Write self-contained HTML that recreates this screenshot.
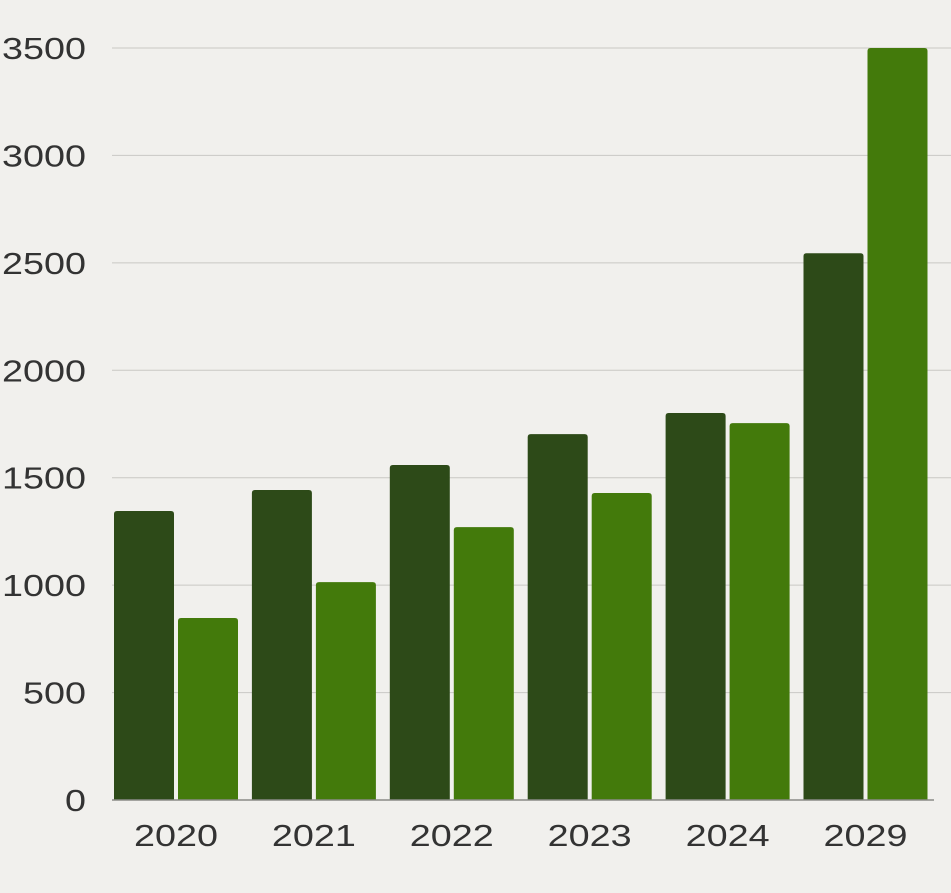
<!DOCTYPE html>
<html><head><meta charset="utf-8"><style>
html,body{margin:0;padding:0;background:#f1f0ed;}
svg{display:block;font-family:"Liberation Sans",sans-serif;}
</style></head><body>
<svg id="chart" width="951" height="893" viewBox="0 0 951 893"></svg>
<script>
const categories=["2020","2021","2022","2023","2024","2029"];
const seriesA=[1345,1443,1559,1703,1801,2545];
const seriesB=[847,1014,1270,1429,1754,3500];
const yTicks=[0,500,1000,1500,2000,2500,3000,3500];
const NS="http://www.w3.org/2000/svg";
const svg=document.getElementById('chart');
const y0=800,yTop=48,yMax=3500,x0=107,groupW=137.9;
const y=v=>y0-(v/yMax)*(y0-yTop);
const xg=i=>x0+i*groupW;
function mk(t,a){const e=document.createElementNS(NS,t);for(const k in a)e.setAttribute(k,a[k]);svg.appendChild(e);return e;}
yTicks.forEach(t=>{
  if(t>0){const l=mk('line',{x1:112,x2:951,y1:y(t),y2:y(t),stroke:'#c9c8c4','stroke-width':1});
  
  }
  const s=String(t);
  const tx=mk('text',{x:86,y:y(t)+11,'text-anchor':'end','font-size':31,fill:'#333',textLength:21*s.length,lengthAdjust:'spacingAndGlyphs'});
  tx.textContent=s;
  
  
});
function bar(x,v,c,name){
  const r=3;
  const d=`M${x},${y0}V${y(v)+r}Q${x},${y(v)} ${x+r},${y(v)}H${x+60-r}Q${x+60},${y(v)} ${x+60},${y(v)+r}V${y0}Z`;
  const p=mk('path',{d:d,fill:c});
  
  
}
categories.forEach((c,i)=>{
  const gx=xg(i);
  bar(gx+7,seriesA[i],'#2d4a18','bar-series-a-'+c);
  bar(gx+71,seriesB[i],'#437a0b','bar-series-b-'+c);
  const t=mk('text',{x:gx+69,y:846,'text-anchor':'middle','font-size':31,fill:'#333',textLength:84,lengthAdjust:'spacingAndGlyphs'});
  t.textContent=c;
  
  
});
const base=mk('line',{x1:112,x2:934,y1:y0,y2:y0,stroke:'#8a8a86','stroke-width':1.5});


</script>
</body></html>
